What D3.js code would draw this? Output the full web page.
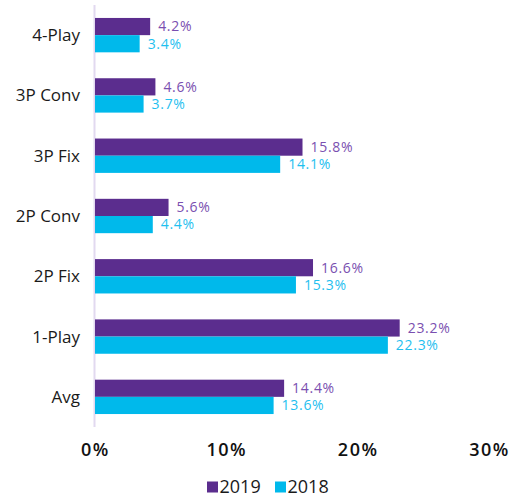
<!DOCTYPE html>
<html>
<head>
<meta charset="utf-8">
<script src="https://cdn.jsdelivr.net/npm/d3@7"></script>
<style>
  body { margin: 0; background: #fff; }
  text { font-family: "Open Sans", "Liberation Sans", sans-serif; }
</style>
</head>
<body>
<svg id="chart" width="517" height="498"></svg>
<script>
const categories = ["4-Play", "3P Conv", "3P Fix", "2P Conv", "2P Fix", "1-Play", "Avg"];
const values2019 = [4.2, 4.6, 15.8, 5.6, 16.6, 23.2, 14.4];
const values2018 = [3.4, 3.7, 14.1, 4.4, 15.3, 22.3, 13.6];
const seriesNames = ["2019", "2018"];
const xTicks = [0, 10, 20, 30];

const colors = { "2019": "#5b2d8e", "2018": "#00b9eb" };
const labelColors = { "2019": "#7a4fb0", "2018": "#1fc0ef" };

const svg = d3.select("#chart");
const x = d3.scaleLinear().domain([0, 30]).range([95, 489]);
const y = d3.scaleBand().domain(categories).range([5, 427]).paddingInner(0.43).paddingOuter(0.215);
const sub = d3.scaleBand().domain(seriesNames).range([0, y.bandwidth()]);

const rows = categories.map((c, i) => ({ cat: c, "2019": values2019[i], "2018": values2018[i] }));

// category axis line
svg.append("line")
  .attr("x1", x(0) - 0.5).attr("x2", x(0) - 0.5)
  .attr("y1", 5).attr("y2", 427)
  .attr("stroke", "#e2d9f0").attr("stroke-width", 2);

const g = svg.append("g").selectAll("g").data(rows).join("g")
  .attr("transform", d => `translate(0,${y(d.cat)})`);

g.selectAll("rect").data(d => seriesNames.map(s => ({ s, v: d[s] }))).join("rect")
  .attr("x", x(0))
  .attr("y", d => sub(d.s))
  .attr("width", d => x(d.v) - x(0))
  .attr("height", sub.bandwidth())
  .attr("fill", d => colors[d.s]);

g.selectAll("text.val").data(d => seriesNames.map(s => ({ s, v: d[s] }))).join("text")
  .attr("class", "val")
  .attr("x", d => x(d.v) + 8)
  .attr("y", d => sub(d.s) + sub.bandwidth() / 2)
  .attr("dy", "0.35em")
  .attr("font-size", 14)
  .attr("letter-spacing", 0.7)
  .attr("fill", d => labelColors[d.s])
  .text(d => d.v.toFixed(1) + "%");

// category labels
svg.append("g").selectAll("text").data(categories).join("text")
  .attr("x", 80)
  .attr("y", d => y(d) + y.bandwidth() / 2)
  .attr("dy", "0.35em")
  .attr("text-anchor", "end")
  .attr("font-size", 17)
  .attr("fill", "#1a1a1a")
  .text(d => d);

// value axis
const xAxis = svg.append("g")
  .attr("transform", "translate(0,450)")
  .call(d3.axisBottom(x).tickValues(xTicks).tickFormat(d => d + "%").tickSize(0));
xAxis.select(".domain").remove();
xAxis.selectAll("text")
  .attr("dy", "0.35em").attr("y", 0)
  .attr("font-size", 18).attr("font-weight", 600)
  .attr("letter-spacing", 1.5)
  .attr("fill", "#111")
  .style("font-family", "'Open Sans', sans-serif");

// legend
const legendX = [207, 275];
const lg = svg.append("g").selectAll("g").data(seriesNames).join("g")
  .attr("transform", (d, i) => `translate(${legendX[i]},487)`);
lg.append("rect").attr("x", 0).attr("y", -5.5).attr("width", 11).attr("height", 11)
  .attr("fill", d => colors[d]);
lg.append("text").attr("x", 12.5).attr("dy", "0.35em")
  .attr("font-size", 18).attr("fill", "#1a1a1a")
  .text(d => d);
</script>
</body>
</html>
